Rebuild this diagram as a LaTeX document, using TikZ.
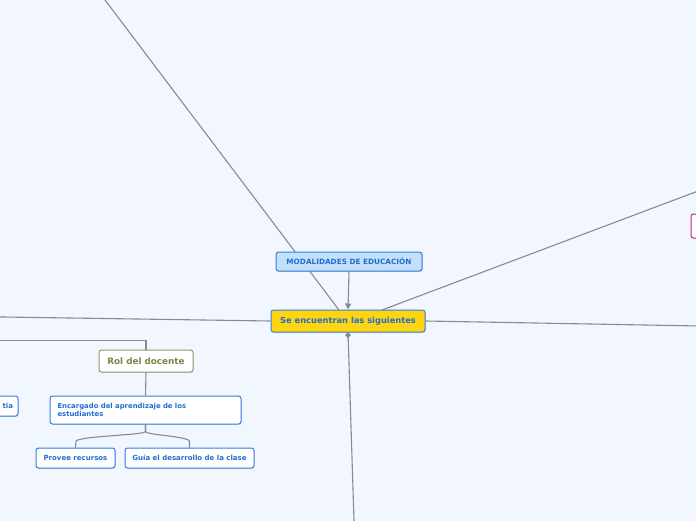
\documentclass[tikz,border=0pt]{standalone}
\usepackage{fontspec}
\setmainfont{DejaVu Sans}
\usetikzlibrary{arrows.meta,shadows,backgrounds}
\definecolor{bg}{RGB}{242,246,254}
\definecolor{conn}{RGB}{134,138,148}
\definecolor{blueb}{RGB}{52,126,222}
\definecolor{bluet}{RGB}{30,110,210}
\definecolor{yel}{RGB}{255,212,16}
\definecolor{lblue}{RGB}{196,224,248}
\definecolor{olive}{RGB}{140,156,100}
\definecolor{olivet}{RGB}{118,134,70}
\definecolor{crim}{RGB}{200,40,100}
\tikzset{
  box/.style={rectangle, rounded corners=2.5pt, draw=blueb, line width=1pt, fill=white,
    inner sep=0pt, text=bluet, font=\fontsize{7}{8}\selectfont\bfseries,
    drop shadow={shadow xshift=0.6pt, shadow yshift=-0.9pt, opacity=0.25}},
  conline/.style={draw=conn, line width=1.1pt},
}
\begin{document}
\begin{tikzpicture}[x=1pt,y=-1pt]
\useasboundingbox (0,0) rectangle (696,520);
\clip (0,0) rectangle (696,520);

% off-canvas coordinates
\coordinate (tl) at (97.5,-10);
\coordinate (tr) at (722,182);
\coordinate (re) at (722,326.4);
\coordinate (le) at (-10,316.8);
\coordinate (bo) at (354.3,530);
\coordinate (lb) at (-10,340.5);
\coordinate (ctl) at (339,310);
\coordinate (ctr) at (382,310);

\node[box, fill=yel, minimum width=154, minimum height=22, font=\fontsize{8.3}{9.5}\selectfont\bfseries] (c) at (348,321) {Se encuentran las siguientes};
\node[box, fill=lblue, minimum width=146, minimum height=19, font=\fontsize{7.3}{8.5}\selectfont\bfseries] (m) at (349,261.5) {MODALIDADES DE EDUCACIÓN};
\node[box, draw=olive, text=olivet, minimum width=94, minimum height=22, font=\fontsize{8.8}{10}\selectfont\bfseries] (rol) at (146,361) {Rol del docente};
\node[box, minimum width=191, minimum height=28, align=left, text width=176, font=\fontsize{6.9}{7.8}\selectfont\bfseries] (enc) at (145.5,410) {Encargado del aprendizaje de los\\estudiantes};
\node[box, minimum width=79, minimum height=20] (prov) at (75.5,458) {Provee recursos};
\node[box, minimum width=129, minimum height=20] (guia) at (189.5,458) {Guía el desarrollo de la clase};
\node[box, minimum width=56, minimum height=20, align=right, text width=46] (tia) at (-10,406) {tia};
\node[box, draw=crim, minimum width=30, minimum height=24] (red) at (706,226) {};

\begin{scope}[on background layer]
\fill[bg] (-20,-20) rectangle (720,540);
\draw[conline] (tl) -- (ctl);
\draw[conline] (tr) -- (ctr);
\draw[conline] (c.east) -- (re);
\draw[conline] (c.west) -- (le);
\draw[conline] (c.south) -- (bo);
\draw[conline] (lb) -| (rol.north);
\draw[conline] (rol.south) -- (enc.north);
\draw[conline] (enc.south) -- ++(0,7) .. controls (146,435) and (80,436) .. (76,441) -- (prov.north);
\draw[conline] (enc.south) -- ++(0,7) .. controls (146,435) and (186,436) .. (189.5,441) -- (guia.north);
\end{scope}
\draw[conline, -{Triangle[length=6pt,width=6pt]}] (m.south) -- (c.north);
\fill[conn] (c.south) ++(0,-0.5) -- ++(3,3) -- ++(-3,3) -- ++(-3,-3) -- cycle;
\end{tikzpicture}
\end{document}
